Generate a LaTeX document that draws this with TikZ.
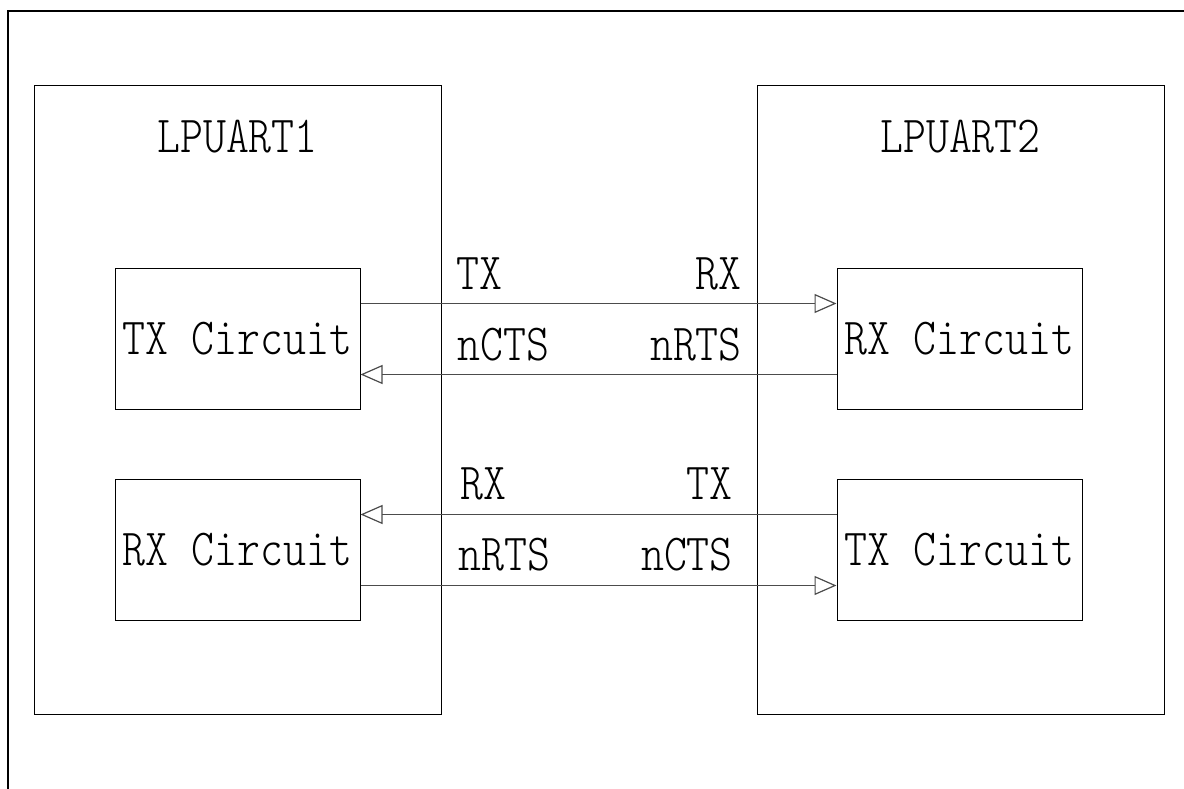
\documentclass[tikz,border=0pt]{standalone}
\usepackage{fontspec}
\usepackage{tikz}
\usetikzlibrary{arrows.meta,positioning,calc}
\newfontfamily\uartfont{lmmonolt10-regular.otf}[FakeStretch=0.84]
\tikzset{
  uart/block/.style={draw, line width=1pt, inner sep=0pt, minimum width=407pt, minimum height=628pt},
  uart/circuit/.style={draw, line width=1pt, inner sep=0pt, minimum width=245pt, minimum height=141pt,
    font=\uartfont\fontsize{52}{56}\selectfont},
  uart/title/.style={inner sep=0pt, font=\uartfont\fontsize{52}{56}\selectfont},
  uart/lbl/.style={inner sep=0pt, font=\uartfont\fontsize{52}{56}\selectfont},
  uart/sig/.style={draw=black!70, line width=1.2pt,
    -{Triangle[open, length=22pt, width=19pt, fill=white]}},
  uart/frame/.style={line width=2pt}
}
\begin{document}
\begin{tikzpicture}[x=1pt, y=-1pt]
  \useasboundingbox (0,0) rectangle (1184,789);
  \draw[uart/frame] (1184,11) -- (8,11) -- (8,789);

  % the two LPUART blocks
  \node[uart/block] (lpA) at (237.5,400) {};
  \node[uart/block] (lpB) at (960.5,400) {};
  \node[uart/title, anchor=base] (ttlA) at ([yshift=-67pt]lpA.north) {LPUART1};
  \node[uart/title, anchor=base] (ttlB) at ([yshift=-67pt]lpB.north) {LPUART2};

  % circuits
  \node[uart/circuit] (txA) at (237.5,338.5) {TX Circuit};
  \node[uart/circuit] (rxA) at (237.5,549.5) {RX Circuit};
  \node[uart/circuit] (rxB) at (959.5,338.5) {RX Circuit};
  \node[uart/circuit] (txB) at (959.5,549.5) {TX Circuit};

  % signals
  \draw[uart/sig] ([yshift=35pt]txA.east) -- ([yshift=35pt]txA.east -| rxB.west);
  \draw[uart/sig] ([yshift=-36pt]rxB.west) -- ([yshift=-36pt]rxB.west -| txA.east);
  \draw[uart/sig] ([yshift=35pt]txB.west) -- ([yshift=35pt]txB.west -| rxA.east);
  \draw[uart/sig] ([yshift=-36pt]rxA.east) -- ([yshift=-36pt]rxA.east -| txB.west);

  \node[uart/lbl, anchor=base west] (lblTxA) at (456,289) {TX};
  \node[uart/lbl, anchor=base east] (lblRxB) at (742,289) {RX};
  \node[uart/lbl, anchor=base west] (lblCtsA) at (457,360) {nCTS};
  \node[uart/lbl, anchor=base east] (lblRtsB) at (742,360) {nRTS};
  \node[uart/lbl, anchor=base west] (lblRxA) at (460,499) {RX};
  \node[uart/lbl, anchor=base east] (lblTxB) at (733,499) {TX};
  \node[uart/lbl, anchor=base west] (lblRtsA) at (458,570) {nRTS};
  \node[uart/lbl, anchor=base east] (lblCtsB) at (733,570) {nCTS};
\end{tikzpicture}
\end{document}
